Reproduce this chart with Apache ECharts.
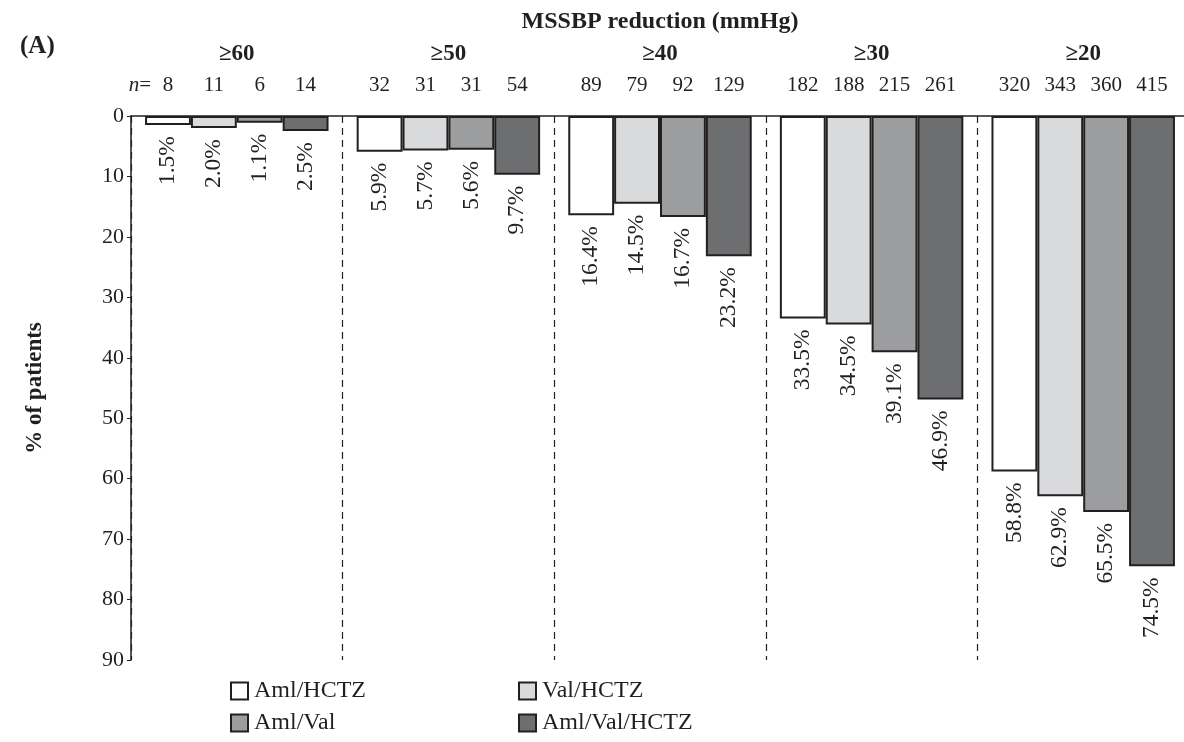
<!DOCTYPE html>
<html>
<head>
<meta charset="utf-8">
<script src="https://cdn.jsdelivr.net/npm/echarts@6/dist/echarts.min.js"></script>
<style>
  html, body { margin: 0; padding: 0; background: #fff; }
  #main { width: 1184px; height: 742px; }
</style>
</head>
<body>
<div id="main"></div>
<script>
// MSSBP reduction thresholds (groups)
var groups = ['≥60', '≥50', '≥40', '≥30', '≥20'];
var treatments = ['Aml/HCTZ', 'Val/HCTZ', 'Aml/Val', 'Aml/Val/HCTZ'];
// % of patients per treatment, one value per group
var amlHctz = [1.5, 5.9, 16.4, 33.5, 58.8];
var valHctz = [2.0, 5.7, 14.5, 34.5, 62.9];
var amlVal = [1.1, 5.6, 16.7, 39.1, 65.5];
var amlValHctz = [2.5, 9.7, 23.2, 46.9, 74.5];
// patient counts (n=) per treatment, one value per group
var nAmlHctz = [8, 32, 89, 182, 320];
var nValHctz = [11, 31, 79, 188, 343];
var nAmlVal = [6, 31, 92, 215, 360];
var nAmlValHctz = [14, 54, 129, 261, 415];
var yTicks = [0, 10, 20, 30, 40, 50, 60, 70, 80, 90];

var ink = '#231f20';
var font = '"Liberation Serif", "DejaVu Serif", serif';
var colors = ['#ffffff', '#d9dadc', '#9c9d9f', '#6d6e70'];
var values = [amlHctz, valHctz, amlVal, amlValHctz];
var counts = [nAmlHctz, nValHctz, nAmlVal, nAmlValHctz];

var myChart = echarts.init(document.getElementById('main'));

var series = [];
// visible bars, hanging down from 0
treatments.forEach(function (name, i) {
  series.push({
    name: name,
    type: 'bar',
    xAxisIndex: 0,
    yAxisIndex: 0,
    barGap: '0%',
    barCategoryGap: '13.3%',
    data: values[i],
    itemStyle: { color: colors[i], borderColor: ink, borderWidth: 2 },
    label: {
      show: true,
      position: 'bottom',
      distance: 11,
      rotate: 90,
      align: 'right',
      verticalAlign: 'middle',
      fontFamily: font,
      fontSize: 23.5,
      color: ink,
      formatter: function (p) { return p.value.toFixed(1) + '%'; }
    },
    emphasis: { disabled: true },
    silent: true
  });
});
// empty bars on a twin axis, only carrying the n= labels
counts.forEach(function (arr, i) {
  series.push({
    name: 'n' + i,
    type: 'bar',
    xAxisIndex: 1,
    yAxisIndex: 1,
    barGap: '0%',
    barCategoryGap: '13.3%',
    data: arr.map(function () { return 0; }),
    itemStyle: { color: 'transparent', borderWidth: 0 },
    label: {
      show: true,
      position: 'top',
      distance: 20,
      fontFamily: font,
      fontSize: 21,
      color: ink,
      formatter: function (p) { return String(arr[p.dataIndex]); }
    },
    emphasis: { disabled: true },
    silent: true
  });
});

var legendBase = {
  orient: 'vertical',
  top: 678,
  padding: 0,
  itemWidth: 17, itemHeight: 17, itemGap: 6,
  icon: 'rect',
  textStyle: { fontFamily: font, fontSize: 24, lineHeight: 26, color: ink, padding: [0, 0, 0, 1] }
};

var option = {
  backgroundColor: '#fff',
  animation: false,
  textStyle: { fontFamily: font, color: ink },
  grid: { left: 131, top: 116, width: 1058, height: 544, containLabel: false, outerBoundsMode: 'none' },
  legend: [
    Object.assign({ data: ['Aml/HCTZ', 'Aml/Val'], left: 230 }, legendBase),
    Object.assign({ data: ['Val/HCTZ', 'Aml/Val/HCTZ'], left: 518 }, legendBase)
  ],
  xAxis: [{
    type: 'category',
    data: groups,
    position: 'top',
    name: 'MSSBP reduction (mmHg)',
    nameLocation: 'middle',
    nameGap: 82,
    nameTextStyle: { fontFamily: font, fontSize: 24, fontWeight: 'bold', color: ink },
    axisLine: { show: true, lineStyle: { color: ink, width: 1.5 } },
    axisTick: { show: false },
    axisLabel: { fontFamily: font, fontSize: 23, fontWeight: 'bold', color: ink, margin: 50 },
    splitLine: { show: true, lineStyle: { color: ink, width: 1.2, type: [7, 5] } }
  }, {
    type: 'category',
    data: groups,
    position: 'top',
    show: false
  }],
  yAxis: [{
    type: 'value',
    inverse: true,
    min: yTicks[0],
    max: yTicks[yTicks.length - 1],
    interval: 10,
    name: '% of patients',
    nameLocation: 'middle',
    nameGap: 84,
    nameTextStyle: { fontFamily: font, fontSize: 23, fontWeight: 'bold', color: ink },
    axisLine: { show: true, lineStyle: { color: ink, width: 1.5 } },
    axisTick: { show: true, length: 4, lineStyle: { color: ink } },
    axisLabel: { fontFamily: font, fontSize: 22, color: ink, margin: 7 },
    splitLine: { show: false }
  }, {
    type: 'value',
    inverse: true,
    min: 0,
    max: 90,
    show: false
  }],
  graphic: [{
    type: 'text',
    left: 20, top: 34,
    style: { text: '(A)', fontFamily: font, fontSize: 25, fontWeight: 'bold', fill: ink }
  }, {
    type: 'text',
    x: 151, y: 85,
    style: {
      text: '{i|n}=',
      align: 'right',
      verticalAlign: 'middle',
      fontFamily: font,
      fontSize: 21,
      fill: ink,
      rich: { i: { fontStyle: 'italic', fontFamily: font, fontSize: 21, fill: ink } }
    }
  }],
  series: series
};
myChart.setOption(option);
</script>
</body>
</html>
